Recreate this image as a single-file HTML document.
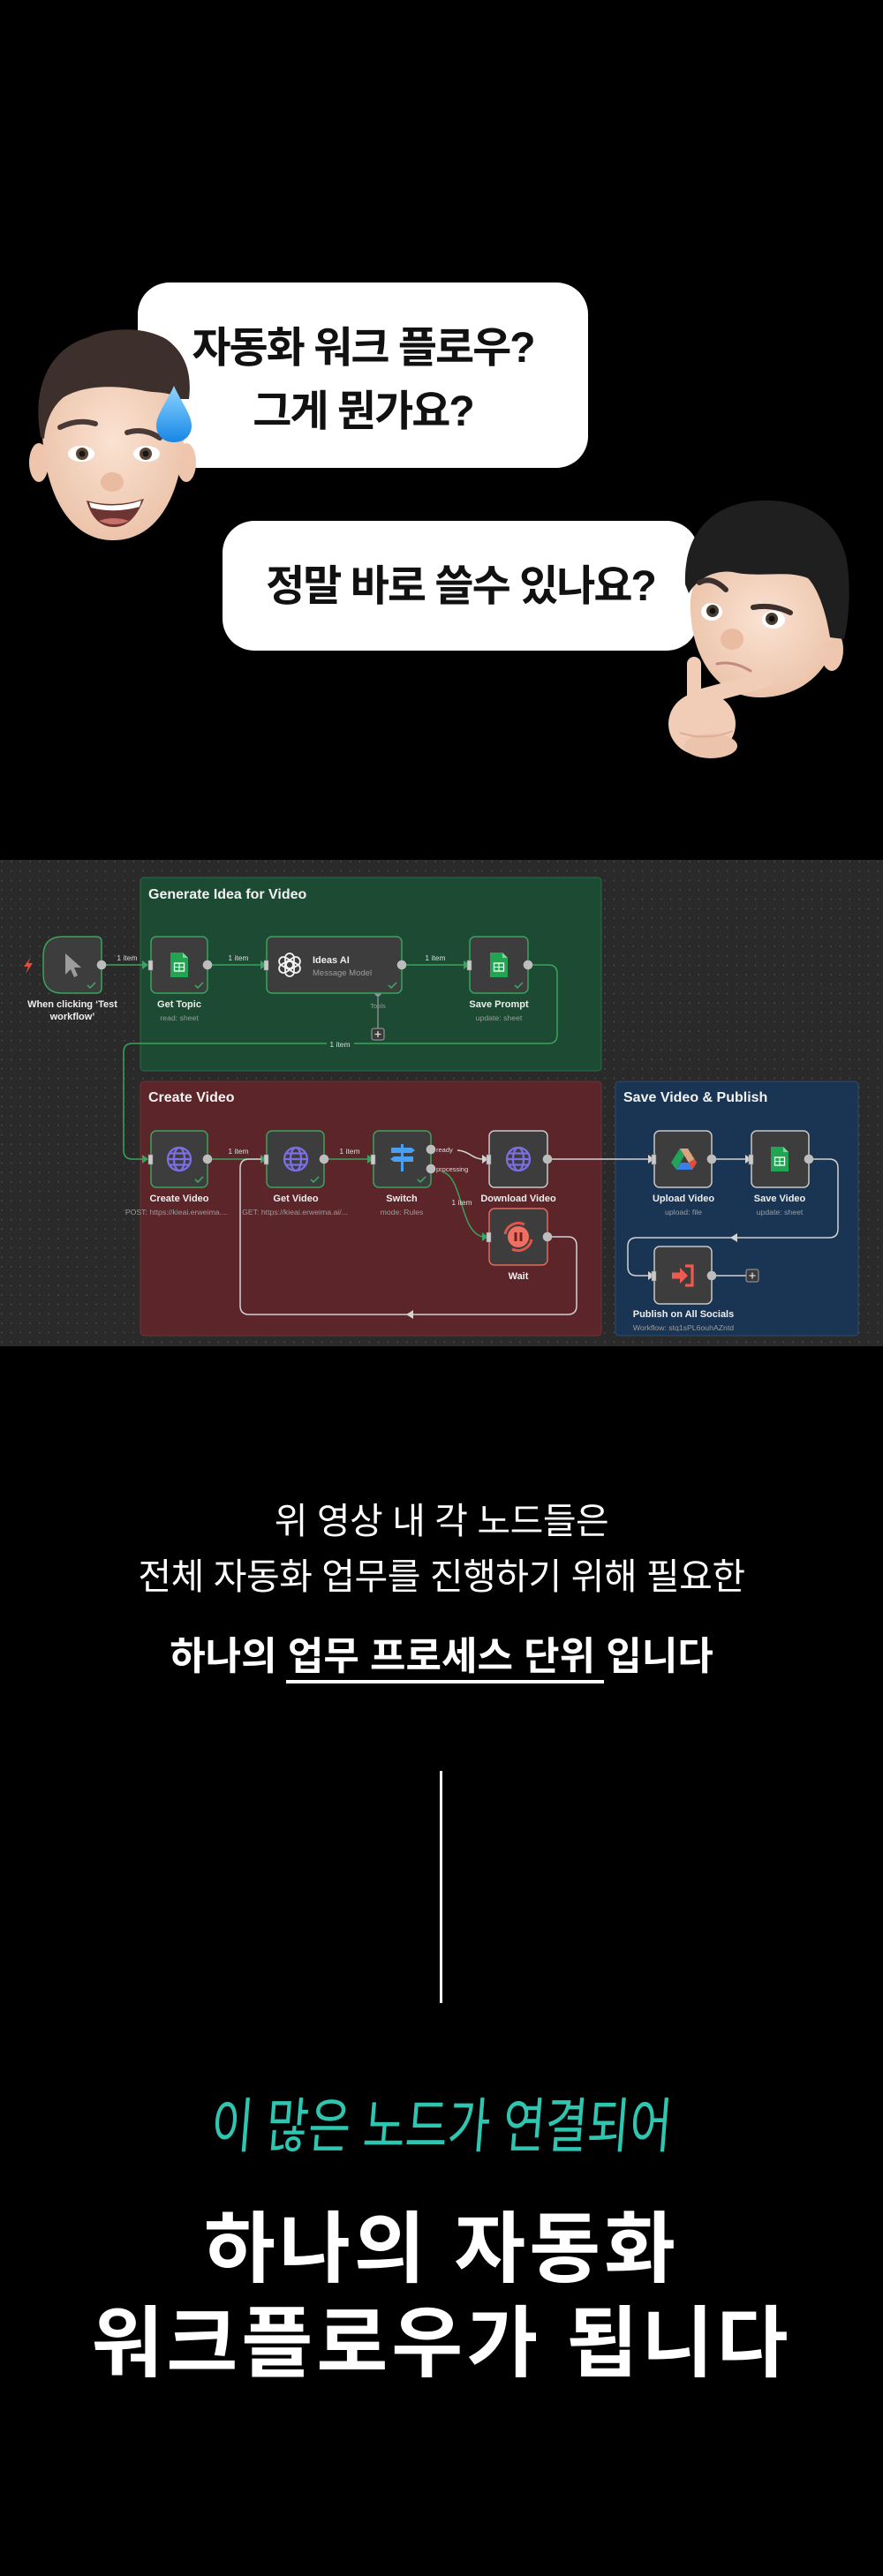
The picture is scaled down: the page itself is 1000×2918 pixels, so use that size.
<!DOCTYPE html>
<html lang="ko">
<head>
<meta charset="utf-8">
<style>
  html,body{margin:0;padding:0;background:#000;}
  body{width:1000px;height:2918px;position:relative;overflow:hidden;font-family:"Liberation Sans","Noto Sans CJK KR",sans-serif;}
  .abs{position:absolute;}
  .bubble{position:absolute;background:#fff;border-radius:36px;}
  .btxt{position:absolute;text-align:center;color:#111;font-weight:700;font-size:48px;letter-spacing:-2px;line-height:72px;white-space:nowrap;font-family:"Liberation Sans","Noto Sans CJK KR",sans-serif;}
  .ctr{position:absolute;left:0;width:1000px;text-align:center;color:#fff;white-space:nowrap;font-family:"Liberation Sans","Noto Sans CJK KR",sans-serif;}
</style>
</head>
<body>

<!-- Chat bubbles -->
<div class="bubble" style="left:156px;top:320px;width:510px;height:210px;"></div>
<div class="btxt" style="left:156px;top:359px;width:510px;">자동화 워크 플로우?<br>그게 뭔가요?</div>

<div class="bubble" style="left:252px;top:590px;width:539px;height:147px;"></div>
<div class="btxt" style="left:252px;top:629px;width:539px;">정말 바로 쓸수 있나요?</div>

<!-- Avatars -->
<svg class="abs" style="left:0;top:0" width="1000" height="900" viewBox="0 0 1000 900">
  <defs>
    <radialGradient id="skin1" cx="50%" cy="45%" r="60%">
      <stop offset="0" stop-color="#fae2d2"/>
      <stop offset="1" stop-color="#ebc1a7"/>
    </radialGradient>
    <linearGradient id="drop" x1="0" y1="0" x2="0" y2="1">
      <stop offset="0" stop-color="#8fd6ff"/>
      <stop offset="1" stop-color="#1786e6"/>
    </linearGradient>
  </defs>
  <!-- avatar 1 -->
  <ellipse cx="44" cy="524" rx="11" ry="22" fill="#efc6ad"/>
  <ellipse cx="211" cy="524" rx="11" ry="22" fill="#efc6ad"/>
  <path d="M48 470 C45 540 70 612 128 612 C188 612 212 540 208 470 C205 420 170 405 128 405 C85 405 50 420 48 470 Z" fill="url(#skin1)"/>
  <path d="M46 495 C36 440 55 395 100 382 C120 372 160 368 188 384 C208 398 218 420 214 452 L202 452 C190 442 176 446 160 442 C130 436 95 436 72 450 C60 460 52 475 50 497 Z" fill="#3d2f2b"/>
  <path d="M68 484 Q88 474 108 480" stroke="#4a3a35" stroke-width="6" fill="none" stroke-linecap="round"/>
  <path d="M144 490 Q163 484 181 496" stroke="#4a3a35" stroke-width="6" fill="none" stroke-linecap="round"/>
  <ellipse cx="92" cy="514" rx="15" ry="9" fill="#fff"/>
  <circle cx="93" cy="514" r="7" fill="#5b4636"/><circle cx="93" cy="514" r="3.5" fill="#161616"/>
  <ellipse cx="166" cy="514" rx="15" ry="9" fill="#fff"/>
  <circle cx="165" cy="514" r="7" fill="#5b4636"/><circle cx="165" cy="514" r="3.5" fill="#161616"/>
  <ellipse cx="127" cy="546" rx="13" ry="11" fill="#e9bba0"/>
  <path d="M98 567 Q130 576 163 565 Q150 598 128 597 Q106 596 98 567 Z" fill="#6e3431"/>
  <path d="M101 569 Q130 577 160 567 L158 574 Q130 582 103 575 Z" fill="#fff"/>
  <path d="M112 590 Q128 584 146 590 Q130 598 112 590 Z" fill="#c9706a"/>
  <path d="M197 437 C205 455 217 470 217 482 C217 494 208 501 197 501 C186 501 177 494 177 482 C177 470 189 455 197 437 Z" fill="url(#drop)"/>
  <!-- avatar 2 -->
  <ellipse cx="942" cy="736" rx="13" ry="24" fill="#eec5ad"/>
  <path d="M782 680 C780 740 810 790 860 790 C915 790 950 750 948 700 C946 650 910 630 865 630 C815 630 784 645 782 680 Z" fill="url(#skin1)"/>
  <path d="M776 662 C774 610 800 575 850 568 C900 562 945 580 958 630 C964 660 962 700 956 724 L940 722 C935 690 925 665 915 655 C890 645 860 655 830 648 C810 645 790 655 780 672 Z" fill="#1f1f1f"/>
  <path d="M792 660 Q806 652 822 668" stroke="#3b302c" stroke-width="6" fill="none" stroke-linecap="round"/>
  <path d="M853 688 Q875 684 895 694" stroke="#3b302c" stroke-width="6" fill="none" stroke-linecap="round"/>
  <ellipse cx="806" cy="693" rx="12" ry="10" fill="#fff"/>
  <circle cx="807" cy="692" r="7" fill="#4c3d31"/><circle cx="807" cy="692" r="3.5" fill="#111"/>
  <ellipse cx="876" cy="702" rx="13" ry="10" fill="#fff"/>
  <circle cx="874" cy="701" r="7" fill="#4c3d31"/><circle cx="874" cy="701" r="3.5" fill="#111"/>
  <ellipse cx="829" cy="724" rx="13" ry="12" fill="#e9bba0"/>
  <path d="M812 752 Q830 748 850 760" stroke="#c48a80" stroke-width="3" fill="none" stroke-linecap="round"/>
  <!-- hand -->
  <ellipse cx="795" cy="820" rx="38" ry="36" fill="#f1cdb7"/>
  <path d="M792 790 L866 770" stroke="#f1cdb7" stroke-width="18" stroke-linecap="round"/>
  <path d="M786 800 L786 752" stroke="#f1cdb7" stroke-width="16" stroke-linecap="round"/>
  <ellipse cx="805" cy="845" rx="30" ry="14" fill="#ecc3ab"/>
  <path d="M770 830 Q800 840 830 828" stroke="#dcae94" stroke-width="2" fill="none"/>
</svg>

<!-- Workflow diagram -->
<svg class="abs" style="left:0;top:974px" width="1000" height="551" viewBox="0 974 1000 551" font-family="Liberation Sans, Arial, sans-serif">
  <defs>
    <pattern id="dots" x="0" y="974" width="10.67" height="10.67" patternUnits="userSpaceOnUse">
      <circle cx="2" cy="2" r="0.8" fill="#565656"/>
    </pattern>
  </defs>
  <rect x="0" y="974" width="1000" height="551" fill="#2a2a2a"/>
  <rect x="0" y="974" width="1000" height="551" fill="url(#dots)"/>

  <!-- groups -->
  <rect x="159" y="994" width="522" height="219" rx="4" fill="#1c4a33" stroke="#2b6b47" stroke-width="1"/>
  <rect x="159" y="1225" width="522" height="288" rx="4" fill="#5b2529" stroke="#6e3438" stroke-width="1"/>
  <rect x="697" y="1225" width="275" height="288" rx="4" fill="#1a3553" stroke="#2a4a6e" stroke-width="1"/>
  <text x="168" y="1018" font-size="16" font-weight="bold" fill="#f2f2f2">Generate Idea for Video</text>
  <text x="168" y="1248" font-size="16" font-weight="bold" fill="#f2f2f2">Create Video</text>
  <text x="706" y="1248" font-size="16" font-weight="bold" fill="#f2f2f2">Save Video &amp; Publish</text>

  <!-- connections row 1 -->
  <g stroke="#3aa35f" stroke-width="1.5" fill="none">
    <line x1="120" y1="1093" x2="162" y2="1093"/>
    <line x1="240" y1="1093" x2="296" y2="1093"/>
    <line x1="460" y1="1093" x2="526" y2="1093"/>
    <path d="M603 1093 H621 Q631 1093 631 1103 V1172 Q631 1182 621 1182 H150 Q140 1182 140 1192 V1303 Q140 1313 150 1313 H162"/>
    <line x1="240" y1="1313" x2="296" y2="1313"/>
    <line x1="372" y1="1313" x2="417" y2="1313"/>
    <path d="M500 1327 C525 1332 520 1396 547 1401"/>
  </g>
  <g fill="#3aa35f">
    <polygon points="168,1093 161,1088 161,1098"/>
    <polygon points="302,1093 295,1088 295,1098"/>
    <polygon points="532,1093 525,1088 525,1098"/>
    <polygon points="168,1313 161,1308 161,1318"/>
    <polygon points="302,1313 295,1308 295,1318"/>
    <polygon points="423,1313 416,1308 416,1318"/>
    <polygon points="553,1401 546,1396 546,1406"/>
  </g>
  <!-- gray connections -->
  <g stroke="#d2d2d2" stroke-width="1.5" fill="none">
    <path d="M518 1303 C532 1304 535 1313 547 1313"/>
    <line x1="625" y1="1313" x2="735" y2="1313"/>
    <path d="M625 1401 H643 Q653 1401 653 1411 V1479 Q653 1489 643 1489 H282 Q272 1489 272 1479 V1323 Q272 1313 282 1313 H296"/>
    <line x1="811" y1="1313" x2="845" y2="1313"/>
    <path d="M921 1313 H939 Q949 1313 949 1323 V1392 Q949 1402 939 1402 H721 Q711 1402 711 1412 V1435 Q711 1445 721 1445 H735"/>
    <line x1="811" y1="1445" x2="845" y2="1445"/>
  </g>
  <g fill="#d2d2d2">
    <polygon points="553,1313 546,1308 546,1318"/>
    <polygon points="741,1313 734,1308 734,1318"/>
    <polygon points="851,1313 844,1308 844,1318"/>
    <polygon points="741,1445 734,1440 734,1450"/>
    <polygon points="460,1489 468,1484 468,1494"/>
    <polygon points="827,1402 835,1397 835,1407"/>
  </g>

  <!-- edge labels -->
  <g font-size="8.5" fill="#dcdcdc" text-anchor="middle">
    <text x="144" y="1088">1 item</text>
    <text x="270" y="1088">1 item</text>
    <text x="493" y="1088">1 item</text>
    <rect x="370" y="1177" width="31" height="10" fill="#1c4a33"/>
    <text x="385" y="1186">1 item</text>
    <text x="270" y="1307">1 item</text>
    <text x="396" y="1307">1 item</text>
    <text x="523" y="1365">1 item</text>
  </g>
  <g font-size="7.5" fill="#dcdcdc">
    <text x="494" y="1305">ready</text>
    <text x="494" y="1327">processing</text>
  </g>

  <!-- tools connector -->
  <line x1="428" y1="1130" x2="428" y2="1165" stroke="#8a8a8a" stroke-width="1.5"/>
  <polygon points="428,1120 433,1125 428,1130 423,1125" fill="#8d92a3"/>
  <text x="428" y="1142" font-size="7.5" fill="#9a9a9a" text-anchor="middle">Tools</text>
  <rect x="421" y="1165" width="14" height="13" rx="2" fill="#3a3a3a" stroke="#a0a0a0" stroke-width="1"/>
  <path d="M428 1168 V1175 M424.5 1171.5 H431.5" stroke="#ddd" stroke-width="1.3"/>
  <rect x="845" y="1438" width="14" height="14" rx="2" fill="#3a3a3a" stroke="#a0a0a0" stroke-width="1"/>
  <path d="M852 1441.5 V1448.5 M848.5 1445 H855.5" stroke="#ddd" stroke-width="1.3"/>

  <!-- lightning -->
  <polygon points="35,1084 27,1095 32,1095 29,1103 37,1091 32,1091" fill="#ea4b3f"/>

  <!-- nodes -->
  <g fill="#3d3d3d" stroke="#3aa35f" stroke-width="1.5">
    <path d="M71 1061 H109 Q115 1061 115 1067 V1119 Q115 1125 109 1125 H71 Q49 1125 49 1103 V1083 Q49 1061 71 1061 Z"/>
    <rect x="171" y="1061" width="64" height="64" rx="6"/>
    <rect x="302" y="1061" width="153" height="64" rx="6"/>
    <rect x="532" y="1061" width="66" height="64" rx="6"/>
    <rect x="171" y="1281" width="64" height="64" rx="6"/>
    <rect x="302" y="1281" width="65" height="64" rx="6"/>
    <rect x="423" y="1281" width="65" height="64" rx="6"/>
  </g>
  <g fill="#3d3d3d" stroke="#c8c8c8" stroke-width="1.5">
    <rect x="554" y="1281" width="66" height="64" rx="6"/>
    <rect x="741" y="1281" width="65" height="64" rx="6"/>
    <rect x="851" y="1281" width="65" height="64" rx="6"/>
    <rect x="741" y="1412" width="65" height="65" rx="6"/>
  </g>
  <rect x="554" y="1369" width="66" height="64" rx="6" fill="#3d3d3d" stroke="#e26b5c" stroke-width="1.5"/>

  <!-- checks -->
  <g stroke="#3aa35f" stroke-width="1.6" fill="none">
    <polyline points="99,1116 102,1119 108,1113"/>
    <polyline points="221,1116 224,1119 230,1113"/>
    <polyline points="440,1116 443,1119 449,1113"/>
    <polyline points="583,1116 586,1119 592,1113"/>
    <polyline points="221,1336 224,1339 230,1333"/>
    <polyline points="352,1336 355,1339 361,1333"/>
    <polyline points="473,1336 476,1339 482,1333"/>
  </g>

  <!-- handles -->
  <g fill="#bdbdbd">
    <circle cx="115" cy="1093" r="5.3"/>
    <circle cx="235" cy="1093" r="5.3"/>
    <circle cx="455" cy="1093" r="5.3"/>
    <circle cx="598" cy="1093" r="5.3"/>
    <circle cx="235" cy="1313" r="5.3"/>
    <circle cx="367" cy="1313" r="5.3"/>
    <circle cx="488" cy="1302" r="5.3"/>
    <circle cx="488" cy="1324" r="5.3"/>
    <circle cx="620" cy="1313" r="5.3"/>
    <circle cx="620" cy="1401" r="5.3"/>
    <circle cx="806" cy="1313" r="5.3"/>
    <circle cx="916" cy="1313" r="5.3"/>
    <circle cx="806" cy="1445" r="5.3"/>
  </g>
  <g fill="#cacaca" stroke="#7a7a7a" stroke-width="0.5">
    <rect x="168" y="1088" width="5" height="11"/>
    <rect x="299" y="1088" width="5" height="11"/>
    <rect x="529" y="1088" width="5" height="11"/>
    <rect x="168" y="1308" width="5" height="11"/>
    <rect x="299" y="1308" width="5" height="11"/>
    <rect x="420" y="1308" width="5" height="11"/>
    <rect x="551" y="1308" width="5" height="11"/>
    <rect x="551" y="1396" width="5" height="11"/>
    <rect x="738" y="1308" width="5" height="11"/>
    <rect x="848" y="1308" width="5" height="11"/>
    <rect x="738" y="1440" width="5" height="11"/>
  </g>

  <!-- icons -->
  <path d="M74 1080 L74 1104 L80 1098 L84 1107 L88 1105 L84 1096 L92 1096 Z" fill="#9c9c9c"/>
  <!-- sheets icons -->
  <g>
    <path d="M193 1079 H207 L213 1085 V1107 H193 Z" fill="#21a553"/>
    <path d="M207 1079 V1085 H213 Z" fill="#7fd49b"/>
    <rect x="197.5" y="1091" width="11" height="9" fill="none" stroke="#fff" stroke-width="1.3"/>
    <path d="M203 1091 V1100 M197.5 1095.5 H208.5" stroke="#fff" stroke-width="1.1"/>
  </g>
  <g transform="translate(362,0)">
    <path d="M193 1079 H207 L213 1085 V1107 H193 Z" fill="#21a553"/>
    <path d="M207 1079 V1085 H213 Z" fill="#7fd49b"/>
    <rect x="197.5" y="1091" width="11" height="9" fill="none" stroke="#fff" stroke-width="1.3"/>
    <path d="M203 1091 V1100 M197.5 1095.5 H208.5" stroke="#fff" stroke-width="1.1"/>
  </g>
  <g transform="translate(680,220)">
    <path d="M193 1079 H207 L213 1085 V1107 H193 Z" fill="#21a553"/>
    <path d="M207 1079 V1085 H213 Z" fill="#7fd49b"/>
    <rect x="197.5" y="1091" width="11" height="9" fill="none" stroke="#fff" stroke-width="1.3"/>
    <path d="M203 1091 V1100 M197.5 1095.5 H208.5" stroke="#fff" stroke-width="1.1"/>
  </g>
  <!-- openai -->
  <g transform="translate(328,1093)" fill="none" stroke="#f2f2f2" stroke-width="1.8">
    <rect x="-5" y="-13" width="10" height="17" rx="5"/>
    <rect x="-5" y="-13" width="10" height="17" rx="5" transform="rotate(60)"/>
    <rect x="-5" y="-13" width="10" height="17" rx="5" transform="rotate(120)"/>
    <rect x="-5" y="-13" width="10" height="17" rx="5" transform="rotate(180)"/>
    <rect x="-5" y="-13" width="10" height="17" rx="5" transform="rotate(240)"/>
    <rect x="-5" y="-13" width="10" height="17" rx="5" transform="rotate(300)"/>
  </g>
  <text x="354" y="1091" font-size="11" font-weight="bold" fill="#eeeeee">Ideas AI</text>
  <text x="354" y="1105" font-size="9.5" fill="#9c9c9c">Message Model</text>
  <!-- globes -->
  <g fill="none" stroke="#7b6fe3" stroke-width="2.3">
    <g transform="translate(203,1313)"><circle r="13"/><ellipse rx="6" ry="13"/><path d="M-13 0 H13 M-11 -6.5 H11 M-11 6.5 H11"/></g>
    <g transform="translate(335,1313)"><circle r="13"/><ellipse rx="6" ry="13"/><path d="M-13 0 H13 M-11 -6.5 H11 M-11 6.5 H11"/></g>
    <g transform="translate(587,1313)"><circle r="13"/><ellipse rx="6" ry="13"/><path d="M-13 0 H13 M-11 -6.5 H11 M-11 6.5 H11"/></g>
  </g>
  <!-- switch icon -->
  <g fill="#4a9ff0">
    <rect x="454" y="1296" width="3" height="31"/>
    <path d="M443 1300 H466 L470 1303 L466 1306 H443 Z"/>
    <path d="M446 1310 H468 V1316 H446 L442 1313 Z"/>
  </g>
  <!-- wait icon -->
  <g transform="translate(587,1401)">
    <circle r="12" fill="#ef6f63"/>
    <rect x="-4.5" y="-5" width="3" height="10" fill="#6b1f1f"/>
    <rect x="1.5" y="-5" width="3" height="10" fill="#6b1f1f"/>
    <path d="M-15 -3 A15.5 15.5 0 0 1 7 -14" stroke="#e0554a" stroke-width="3" fill="none"/>
    <path d="M15 3 A15.5 15.5 0 0 1 -7 14" stroke="#e0554a" stroke-width="3" fill="none"/>
  </g>
  <!-- drive icon -->
  <g transform="translate(774,1313)">
    <polygon points="-4,-12 1,-4 -8,12 -14,4" fill="#22a35a"/>
    <polygon points="-4,-12 5,-12 15,4 6,4" fill="#d8a57e"/>
    <polygon points="-8,12 -3,4 15,4 10,12" fill="#3b7ee6"/>
    <polygon points="10,12 15,4 12,0 6,4" fill="#e24a3b"/>
  </g>
  <!-- publish icon -->
  <g transform="translate(774,1445)" fill="#ee5a4f">
    <rect x="-13" y="-3.5" width="10" height="7"/>
    <polygon points="-4,-9 5,0 -4,9"/>
    <path d="M2 -11 H10 V11 H2" stroke="#ee5a4f" stroke-width="3.2" fill="none"/>
  </g>

  <!-- node labels -->
  <g font-size="11" font-weight="bold" fill="#eeeeee" text-anchor="middle">
    <text x="82" y="1141">When clicking ‘Test</text>
    <text x="82" y="1155">workflow’</text>
    <text x="203" y="1141">Get Topic</text>
    <text x="565" y="1141">Save Prompt</text>
    <text x="203" y="1361">Create Video</text>
    <text x="335" y="1361">Get Video</text>
    <text x="455" y="1361">Switch</text>
    <text x="587" y="1361">Download Video</text>
    <text x="587" y="1449">Wait</text>
    <text x="774" y="1361">Upload Video</text>
    <text x="883" y="1361">Save Video</text>
    <text x="774" y="1492">Publish on All Socials</text>
  </g>
  <g font-size="8.7" fill="#9c9c9c" text-anchor="middle">
    <text x="203" y="1156">read: sheet</text>
    <text x="565" y="1156">update: sheet</text>
    <text x="200" y="1376">POST: https://kieai.erweima....</text>
    <text x="334" y="1376">GET: https://kieai.erweima.ai/...</text>
    <text x="455" y="1376">mode: Rules</text>
    <text x="774" y="1376">upload: file</text>
    <text x="883" y="1376">update: sheet</text>
    <text x="774" y="1507">Workflow: stq1sPL6ouhAZntd</text>
  </g>
</svg>

<!-- Explanation text -->
<div class="ctr" style="top:1693px;font-size:41px;line-height:60px;letter-spacing:-0.5px;font-weight:400;">위 영상 내 각 노드들은</div>
<div class="ctr" style="top:1756px;font-size:41px;line-height:60px;letter-spacing:-0.5px;font-weight:400;">전체 자동화 업무를 진행하기 위해 필요한</div>
<div class="ctr" style="top:1847px;font-size:44px;line-height:60px;letter-spacing:0;font-weight:700;">하나의 업무 프로세스 단위 입니다</div>
<div class="abs" style="left:324px;top:1903px;width:360px;height:4px;background:#fff;"></div>

<!-- vertical line -->
<div class="abs" style="left:498px;top:2006px;width:3px;height:263px;background:#f2f2f2;"></div>

<!-- handwritten teal -->
<div class="ctr" style="top:2375px;font-size:52px;line-height:70px;font-weight:400;color:#2ec5b1;transform:scale(1,1.3) skewX(-6deg);">이 많은 노드가 연결되어</div>

<!-- big text -->
<div class="ctr" style="top:2494px;font-size:88px;line-height:107px;font-weight:700;letter-spacing:4px;">하나의 자동화<br>워크플로우가 됩니다</div>

</body>
</html>
